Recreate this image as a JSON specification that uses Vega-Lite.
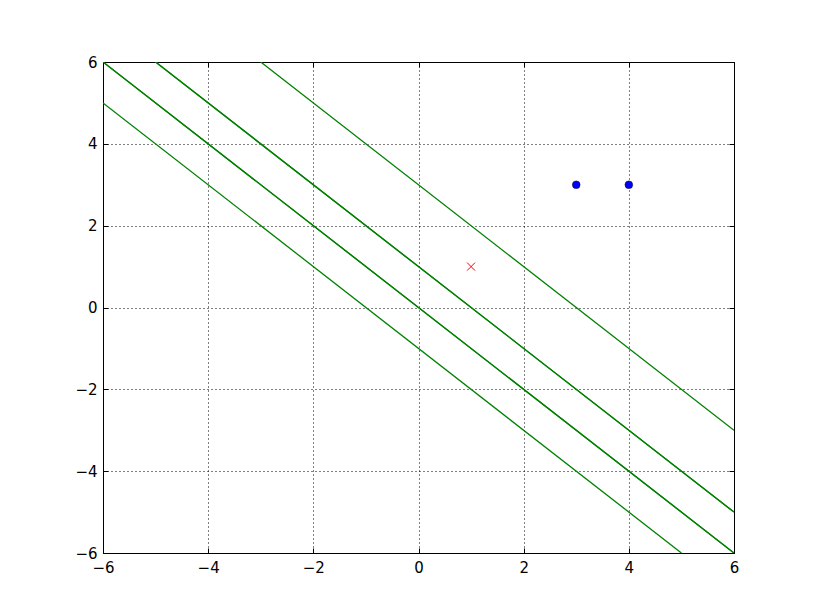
{
  "$schema": "https://vega.github.io/schema/vega-lite/v6.json",
  "width": 631,
  "height": 491,
  "autosize": {"type": "none"},
  "padding": {"left": 103, "top": 62, "right": 81, "bottom": 62},
  "background": "white",
  "config": {
    "view": {"stroke": "black", "strokeWidth": 1},
    "axis": {
      "labelFont": "DejaVu Sans",
      "labelFontSize": 15,
      "labelColor": "black",
      "labelFlush": false,
      "domain": false,
      "ticks": true,
      "tickColor": "black",
      "tickSize": -5,
      "tickWidth": 1,
      "grid": true,
      "gridColor": "black",
      "gridDash": [1, 3],
      "gridWidth": 1,
      "gridOpacity": 1,
      "title": null,
      "labelExpr": "replace(datum.label, '-', '\u2212')"
    }
  },
  "datasets": {
    "lines": [
      {"line": "a", "x": -6, "y": 5}, {"line": "a", "x": 5, "y": -6},
      {"line": "b1", "x": -6, "y": 6}, {"line": "b1", "x": 6, "y": -6},
      {"line": "b2", "x": -6, "y": 6}, {"line": "b2", "x": 6, "y": -6},
      {"line": "c1", "x": -5, "y": 6}, {"line": "c1", "x": 6, "y": -5},
      {"line": "c2", "x": -5, "y": 6}, {"line": "c2", "x": 6, "y": -5},
      {"line": "d", "x": -3, "y": 6}, {"line": "d", "x": 6, "y": -3}
    ],
    "blue": [{"x": 3, "y": 3}, {"x": 4, "y": 3}],
    "red": [{"x": 1, "y": 1}]
  },
  "resolve": {"axis": {"x": "independent", "y": "independent"}},
  "layer": [
    {
      "data": {"name": "lines"},
      "mark": {"type": "line", "color": "#008000", "strokeWidth": 1.3, "clip": true},
      "encoding": {
        "x": {"field": "x", "type": "quantitative", "scale": {"domain": [-6, 6], "nice": false, "zero": false},
              "axis": {"orient": "bottom", "labelPadding": 12, "values": [-6, -4, -2, 0, 2, 4, 6]}},
        "y": {"field": "y", "type": "quantitative", "scale": {"domain": [-6, 6], "nice": false, "zero": false},
              "axis": {"orient": "left", "labelPadding": 11, "values": [-6, -4, -2, 0, 2, 4, 6]}},
        "detail": {"field": "line"}
      }
    },
    {
      "data": {"name": "red"},
      "mark": {"type": "point", "shape": "M-1,-1L1,1M-1,1L1,-1", "color": "#ff0000", "filled": false, "strokeWidth": 1, "size": 64, "opacity": 1},
      "encoding": {
        "x": {"field": "x", "type": "quantitative", "axis": {"orient": "top", "labels": false, "grid": false, "values": [-6, -4, -2, 0, 2, 4, 6]}},
        "y": {"field": "y", "type": "quantitative", "axis": {"orient": "right", "labels": false, "grid": false, "values": [-6, -4, -2, 0, 2, 4, 6]}}
      }
    },
    {
      "data": {"name": "blue"},
      "mark": {"type": "point", "shape": "circle", "filled": true, "fill": "#0000ff", "stroke": "black", "strokeWidth": 0.5, "size": 60, "opacity": 1},
      "encoding": {
        "x": {"field": "x", "type": "quantitative", "axis": null},
        "y": {"field": "y", "type": "quantitative", "axis": null}
      }
    }
  ]
}
